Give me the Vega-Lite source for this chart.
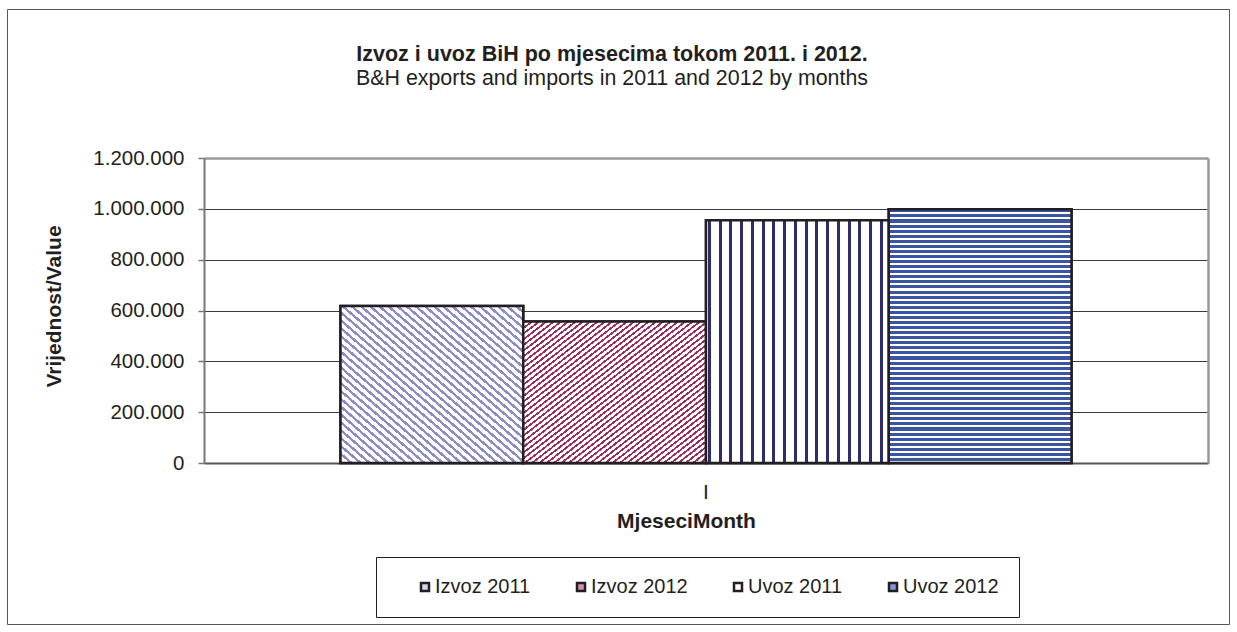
{
  "$schema": "https://vega.github.io/schema/vega-lite/v6.json",
  "width": 1222,
  "height": 615,
  "autosize": "none",
  "padding": {"left": 7, "top": 9, "right": 8, "bottom": 8},
  "background": "white",
  "title": {
    "text": "Izvoz i uvoz BiH po mjesecima tokom 2011. i 2012.",
    "subtitle": "B&H exports and imports in 2011 and 2012 by months",
    "anchor": "middle",
    "font": "Liberation Sans",
    "fontSize": 21.5,
    "fontWeight": "bold",
    "color": "#231f20",
    "subtitleFont": "Liberation Sans",
    "subtitleFontSize": 21.4,
    "subtitleColor": "#231f20",
    "subtitlePadding": 2,
    "offset": -80,
    "dx": -6
  },
  "data": {
    "values": [
      {"m": "I", "s": "Izvoz 2011", "v": 618000},
      {"m": "I", "s": "Izvoz 2012", "v": 557000},
      {"m": "I", "s": "Uvoz 2011", "v": 955000},
      {"m": "I", "s": "Uvoz 2012", "v": 998000}
    ]
  },
  "resolve": {"axis": {"y": "independent"}},
  "layer": [
    {
      "mark": {"type": "bar", "stroke": "#231f20", "strokeWidth": 2.5},
      "encoding": {
        "x": {
          "field": "m", "type": "nominal",
          "scale": {"range": [197, 1201], "paddingInner": 0, "paddingOuter": 0.1867},
          "axis": {
            "offset": -161,
            "title": "MjeseciMonth",
            "titleFont": "Liberation Sans",
            "titleFontWeight": "bold",
            "titleFontSize": 21,
            "titleColor": "#231f20",
            "titleX": 679,
            "titleY": 64,
            "titleAlign": "center",
            "titleBaseline": "alphabetic",
            "labelAngle": 0,
            "labelFont": "Liberation Sans",
            "labelFontSize": 21,
            "labelColor": "#231f20",
            "labelPadding": 18,
            "ticks": false,
            "grid": false,
            "domainColor": "#555555",
            "domainWidth": 2
          }
        },
        "xOffset": {
          "field": "s", "type": "nominal",
          "scale": {"domain": ["Izvoz 2011", "Izvoz 2012", "Uvoz 2011", "Uvoz 2012"], "paddingInner": 0, "paddingOuter": 0}
        },
        "y": {
          "field": "v", "type": "quantitative",
          "scale": {"domain": [0, 1200000], "range": [454, 149], "nice": false},
          "axis": {
            "orient": "left",
            "offset": -197,
            "values": [0, 200000, 400000, 600000, 800000, 1000000, 1200000],
            "labelExpr": "replace(replace(format(datum.value, ','), ',', '.'), ',', '.')",
            "labelFont": "Liberation Sans",
            "labelFontSize": 20.5,
            "labelColor": "#231f20",
            "labelPadding": 14,
            "tickSize": 6,
            "tickColor": "#777777",
            "tickWidth": 1.5,
            "domainColor": "#777777",
            "domainWidth": 2,
            "grid": true,
            "gridColor": {"condition": {"test": "datum.value === 1200000", "value": "#9a9a9a"}, "value": "#3a3a3a"},
            "gridWidth": {"condition": {"test": "datum.value === 1200000", "value": 2.5}, "value": 1},
            "title": "Vrijednost/Value",
            "titleFont": "Liberation Sans",
            "titleFontWeight": "bold",
            "titleFontSize": 21,
            "titleColor": "#231f20",
            "titleAngle": -90,
            "titleX": -150,
            "titleY": 297,
            "titleAlign": "center",
            "titleBaseline": "middle"
          }
        },
        "color": {
          "field": "s", "type": "nominal",
          "scale": {"domain": ["Izvoz 2011", "Izvoz 2012", "Uvoz 2011", "Uvoz 2012"], "range": ["#d4d4ee", "#d890ae", "#ffffff", "#8496cf"]},
          "legend": {
            "orient": "none",
            "legendX": 369,
            "legendY": 548,
            "direction": "horizontal",
            "columns": 4,
            "title": null,
            "labelFont": "Liberation Sans",
            "labelFontSize": 20,
            "labelColor": "#231f20",
            "symbolType": "square",
            "symbolSize": 64,
            "symbolStrokeColor": "#231f20",
            "symbolStrokeWidth": 2.5,
            "symbolOffset": 19,
            "labelOffset": 0,
            "columnPadding": 21,
            "padding": 20,
            "strokeColor": "#231f20"
          }
        }
      }
    },
    {
      "transform": [{"filter": "datum.s === 'Izvoz 2011'"}],
      "mark": {
        "type": "bar", "stroke": "#231f20", "strokeWidth": 2.5,
        "fill": {"gradient": "linear", "x1": 0, "y1": 1, "x2": 1, "y2": 0, "stops": [
          {"offset":0,"color":"#8c8cc6"},{"offset":0.01,"color":"#8c8cc6"},{"offset":0.01,"color":"#fff"},{"offset":0.025,"color":"#fff"},
          {"offset":0.025,"color":"#8c8cc6"},{"offset":0.035,"color":"#8c8cc6"},{"offset":0.035,"color":"#fff"},{"offset":0.05,"color":"#fff"},
          {"offset":0.05,"color":"#8c8cc6"},{"offset":0.06,"color":"#8c8cc6"},{"offset":0.06,"color":"#fff"},{"offset":0.075,"color":"#fff"},
          {"offset":0.075,"color":"#8c8cc6"},{"offset":0.085,"color":"#8c8cc6"},{"offset":0.085,"color":"#fff"},{"offset":0.1,"color":"#fff"},
          {"offset":0.1,"color":"#8c8cc6"},{"offset":0.11,"color":"#8c8cc6"},{"offset":0.11,"color":"#fff"},{"offset":0.125,"color":"#fff"},
          {"offset":0.125,"color":"#8c8cc6"},{"offset":0.135,"color":"#8c8cc6"},{"offset":0.135,"color":"#fff"},{"offset":0.15,"color":"#fff"},
          {"offset":0.15,"color":"#8c8cc6"},{"offset":0.16,"color":"#8c8cc6"},{"offset":0.16,"color":"#fff"},{"offset":0.175,"color":"#fff"},
          {"offset":0.175,"color":"#8c8cc6"},{"offset":0.185,"color":"#8c8cc6"},{"offset":0.185,"color":"#fff"},{"offset":0.2,"color":"#fff"},
          {"offset":0.2,"color":"#8c8cc6"},{"offset":0.21,"color":"#8c8cc6"},{"offset":0.21,"color":"#fff"},{"offset":0.225,"color":"#fff"},
          {"offset":0.225,"color":"#8c8cc6"},{"offset":0.235,"color":"#8c8cc6"},{"offset":0.235,"color":"#fff"},{"offset":0.25,"color":"#fff"},
          {"offset":0.25,"color":"#8c8cc6"},{"offset":0.26,"color":"#8c8cc6"},{"offset":0.26,"color":"#fff"},{"offset":0.275,"color":"#fff"},
          {"offset":0.275,"color":"#8c8cc6"},{"offset":0.285,"color":"#8c8cc6"},{"offset":0.285,"color":"#fff"},{"offset":0.3,"color":"#fff"},
          {"offset":0.3,"color":"#8c8cc6"},{"offset":0.31,"color":"#8c8cc6"},{"offset":0.31,"color":"#fff"},{"offset":0.325,"color":"#fff"},
          {"offset":0.325,"color":"#8c8cc6"},{"offset":0.335,"color":"#8c8cc6"},{"offset":0.335,"color":"#fff"},{"offset":0.35,"color":"#fff"},
          {"offset":0.35,"color":"#8c8cc6"},{"offset":0.36,"color":"#8c8cc6"},{"offset":0.36,"color":"#fff"},{"offset":0.375,"color":"#fff"},
          {"offset":0.375,"color":"#8c8cc6"},{"offset":0.385,"color":"#8c8cc6"},{"offset":0.385,"color":"#fff"},{"offset":0.4,"color":"#fff"},
          {"offset":0.4,"color":"#8c8cc6"},{"offset":0.41,"color":"#8c8cc6"},{"offset":0.41,"color":"#fff"},{"offset":0.425,"color":"#fff"},
          {"offset":0.425,"color":"#8c8cc6"},{"offset":0.435,"color":"#8c8cc6"},{"offset":0.435,"color":"#fff"},{"offset":0.45,"color":"#fff"},
          {"offset":0.45,"color":"#8c8cc6"},{"offset":0.46,"color":"#8c8cc6"},{"offset":0.46,"color":"#fff"},{"offset":0.475,"color":"#fff"},
          {"offset":0.475,"color":"#8c8cc6"},{"offset":0.485,"color":"#8c8cc6"},{"offset":0.485,"color":"#fff"},{"offset":0.5,"color":"#fff"},
          {"offset":0.5,"color":"#8c8cc6"},{"offset":0.51,"color":"#8c8cc6"},{"offset":0.51,"color":"#fff"},{"offset":0.525,"color":"#fff"},
          {"offset":0.525,"color":"#8c8cc6"},{"offset":0.535,"color":"#8c8cc6"},{"offset":0.535,"color":"#fff"},{"offset":0.55,"color":"#fff"},
          {"offset":0.55,"color":"#8c8cc6"},{"offset":0.56,"color":"#8c8cc6"},{"offset":0.56,"color":"#fff"},{"offset":0.575,"color":"#fff"},
          {"offset":0.575,"color":"#8c8cc6"},{"offset":0.585,"color":"#8c8cc6"},{"offset":0.585,"color":"#fff"},{"offset":0.6,"color":"#fff"},
          {"offset":0.6,"color":"#8c8cc6"},{"offset":0.61,"color":"#8c8cc6"},{"offset":0.61,"color":"#fff"},{"offset":0.625,"color":"#fff"},
          {"offset":0.625,"color":"#8c8cc6"},{"offset":0.635,"color":"#8c8cc6"},{"offset":0.635,"color":"#fff"},{"offset":0.65,"color":"#fff"},
          {"offset":0.65,"color":"#8c8cc6"},{"offset":0.66,"color":"#8c8cc6"},{"offset":0.66,"color":"#fff"},{"offset":0.675,"color":"#fff"},
          {"offset":0.675,"color":"#8c8cc6"},{"offset":0.685,"color":"#8c8cc6"},{"offset":0.685,"color":"#fff"},{"offset":0.7,"color":"#fff"},
          {"offset":0.7,"color":"#8c8cc6"},{"offset":0.71,"color":"#8c8cc6"},{"offset":0.71,"color":"#fff"},{"offset":0.725,"color":"#fff"},
          {"offset":0.725,"color":"#8c8cc6"},{"offset":0.735,"color":"#8c8cc6"},{"offset":0.735,"color":"#fff"},{"offset":0.75,"color":"#fff"},
          {"offset":0.75,"color":"#8c8cc6"},{"offset":0.76,"color":"#8c8cc6"},{"offset":0.76,"color":"#fff"},{"offset":0.775,"color":"#fff"},
          {"offset":0.775,"color":"#8c8cc6"},{"offset":0.785,"color":"#8c8cc6"},{"offset":0.785,"color":"#fff"},{"offset":0.8,"color":"#fff"},
          {"offset":0.8,"color":"#8c8cc6"},{"offset":0.81,"color":"#8c8cc6"},{"offset":0.81,"color":"#fff"},{"offset":0.825,"color":"#fff"},
          {"offset":0.825,"color":"#8c8cc6"},{"offset":0.835,"color":"#8c8cc6"},{"offset":0.835,"color":"#fff"},{"offset":0.85,"color":"#fff"},
          {"offset":0.85,"color":"#8c8cc6"},{"offset":0.86,"color":"#8c8cc6"},{"offset":0.86,"color":"#fff"},{"offset":0.875,"color":"#fff"},
          {"offset":0.875,"color":"#8c8cc6"},{"offset":0.885,"color":"#8c8cc6"},{"offset":0.885,"color":"#fff"},{"offset":0.9,"color":"#fff"},
          {"offset":0.9,"color":"#8c8cc6"},{"offset":0.91,"color":"#8c8cc6"},{"offset":0.91,"color":"#fff"},{"offset":0.925,"color":"#fff"},
          {"offset":0.925,"color":"#8c8cc6"},{"offset":0.935,"color":"#8c8cc6"},{"offset":0.935,"color":"#fff"},{"offset":0.95,"color":"#fff"},
          {"offset":0.95,"color":"#8c8cc6"},{"offset":0.96,"color":"#8c8cc6"},{"offset":0.96,"color":"#fff"},{"offset":0.975,"color":"#fff"},
          {"offset":0.975,"color":"#8c8cc6"},{"offset":0.985,"color":"#8c8cc6"},{"offset":0.985,"color":"#fff"},{"offset":1,"color":"#fff"}
        ]}
      },
      "encoding": {
        "x": {"field": "m", "type": "nominal"},
        "xOffset": {"field": "s", "type": "nominal"},
        "y": {"field": "v", "type": "quantitative", "axis": null}
      }
    },
    {
      "transform": [{"filter": "datum.s === 'Izvoz 2012'"}],
      "mark": {
        "type": "bar", "stroke": "#231f20", "strokeWidth": 2.5,
        "fill": {"gradient": "linear", "x1": 0, "y1": 0, "x2": 1, "y2": 1, "stops": [
          {"offset":0,"color":"#9c2b5e"},{"offset":0.008,"color":"#9c2b5e"},{"offset":0.008,"color":"#fff"},{"offset":0.02,"color":"#fff"},
          {"offset":0.02,"color":"#9c2b5e"},{"offset":0.028,"color":"#9c2b5e"},{"offset":0.028,"color":"#fff"},{"offset":0.04,"color":"#fff"},
          {"offset":0.04,"color":"#9c2b5e"},{"offset":0.048,"color":"#9c2b5e"},{"offset":0.048,"color":"#fff"},{"offset":0.06,"color":"#fff"},
          {"offset":0.06,"color":"#9c2b5e"},{"offset":0.068,"color":"#9c2b5e"},{"offset":0.068,"color":"#fff"},{"offset":0.08,"color":"#fff"},
          {"offset":0.08,"color":"#9c2b5e"},{"offset":0.088,"color":"#9c2b5e"},{"offset":0.088,"color":"#fff"},{"offset":0.1,"color":"#fff"},
          {"offset":0.1,"color":"#9c2b5e"},{"offset":0.108,"color":"#9c2b5e"},{"offset":0.108,"color":"#fff"},{"offset":0.12,"color":"#fff"},
          {"offset":0.12,"color":"#9c2b5e"},{"offset":0.128,"color":"#9c2b5e"},{"offset":0.128,"color":"#fff"},{"offset":0.14,"color":"#fff"},
          {"offset":0.14,"color":"#9c2b5e"},{"offset":0.148,"color":"#9c2b5e"},{"offset":0.148,"color":"#fff"},{"offset":0.16,"color":"#fff"},
          {"offset":0.16,"color":"#9c2b5e"},{"offset":0.168,"color":"#9c2b5e"},{"offset":0.168,"color":"#fff"},{"offset":0.18,"color":"#fff"},
          {"offset":0.18,"color":"#9c2b5e"},{"offset":0.188,"color":"#9c2b5e"},{"offset":0.188,"color":"#fff"},{"offset":0.2,"color":"#fff"},
          {"offset":0.2,"color":"#9c2b5e"},{"offset":0.208,"color":"#9c2b5e"},{"offset":0.208,"color":"#fff"},{"offset":0.22,"color":"#fff"},
          {"offset":0.22,"color":"#9c2b5e"},{"offset":0.228,"color":"#9c2b5e"},{"offset":0.228,"color":"#fff"},{"offset":0.24,"color":"#fff"},
          {"offset":0.24,"color":"#9c2b5e"},{"offset":0.248,"color":"#9c2b5e"},{"offset":0.248,"color":"#fff"},{"offset":0.26,"color":"#fff"},
          {"offset":0.26,"color":"#9c2b5e"},{"offset":0.268,"color":"#9c2b5e"},{"offset":0.268,"color":"#fff"},{"offset":0.28,"color":"#fff"},
          {"offset":0.28,"color":"#9c2b5e"},{"offset":0.288,"color":"#9c2b5e"},{"offset":0.288,"color":"#fff"},{"offset":0.3,"color":"#fff"},
          {"offset":0.3,"color":"#9c2b5e"},{"offset":0.308,"color":"#9c2b5e"},{"offset":0.308,"color":"#fff"},{"offset":0.32,"color":"#fff"},
          {"offset":0.32,"color":"#9c2b5e"},{"offset":0.328,"color":"#9c2b5e"},{"offset":0.328,"color":"#fff"},{"offset":0.34,"color":"#fff"},
          {"offset":0.34,"color":"#9c2b5e"},{"offset":0.348,"color":"#9c2b5e"},{"offset":0.348,"color":"#fff"},{"offset":0.36,"color":"#fff"},
          {"offset":0.36,"color":"#9c2b5e"},{"offset":0.368,"color":"#9c2b5e"},{"offset":0.368,"color":"#fff"},{"offset":0.38,"color":"#fff"},
          {"offset":0.38,"color":"#9c2b5e"},{"offset":0.388,"color":"#9c2b5e"},{"offset":0.388,"color":"#fff"},{"offset":0.4,"color":"#fff"},
          {"offset":0.4,"color":"#9c2b5e"},{"offset":0.408,"color":"#9c2b5e"},{"offset":0.408,"color":"#fff"},{"offset":0.42,"color":"#fff"},
          {"offset":0.42,"color":"#9c2b5e"},{"offset":0.428,"color":"#9c2b5e"},{"offset":0.428,"color":"#fff"},{"offset":0.44,"color":"#fff"},
          {"offset":0.44,"color":"#9c2b5e"},{"offset":0.448,"color":"#9c2b5e"},{"offset":0.448,"color":"#fff"},{"offset":0.46,"color":"#fff"},
          {"offset":0.46,"color":"#9c2b5e"},{"offset":0.468,"color":"#9c2b5e"},{"offset":0.468,"color":"#fff"},{"offset":0.48,"color":"#fff"},
          {"offset":0.48,"color":"#9c2b5e"},{"offset":0.488,"color":"#9c2b5e"},{"offset":0.488,"color":"#fff"},{"offset":0.5,"color":"#fff"},
          {"offset":0.5,"color":"#9c2b5e"},{"offset":0.508,"color":"#9c2b5e"},{"offset":0.508,"color":"#fff"},{"offset":0.52,"color":"#fff"},
          {"offset":0.52,"color":"#9c2b5e"},{"offset":0.528,"color":"#9c2b5e"},{"offset":0.528,"color":"#fff"},{"offset":0.54,"color":"#fff"},
          {"offset":0.54,"color":"#9c2b5e"},{"offset":0.548,"color":"#9c2b5e"},{"offset":0.548,"color":"#fff"},{"offset":0.56,"color":"#fff"},
          {"offset":0.56,"color":"#9c2b5e"},{"offset":0.568,"color":"#9c2b5e"},{"offset":0.568,"color":"#fff"},{"offset":0.58,"color":"#fff"},
          {"offset":0.58,"color":"#9c2b5e"},{"offset":0.588,"color":"#9c2b5e"},{"offset":0.588,"color":"#fff"},{"offset":0.6,"color":"#fff"},
          {"offset":0.6,"color":"#9c2b5e"},{"offset":0.608,"color":"#9c2b5e"},{"offset":0.608,"color":"#fff"},{"offset":0.62,"color":"#fff"},
          {"offset":0.62,"color":"#9c2b5e"},{"offset":0.628,"color":"#9c2b5e"},{"offset":0.628,"color":"#fff"},{"offset":0.64,"color":"#fff"},
          {"offset":0.64,"color":"#9c2b5e"},{"offset":0.648,"color":"#9c2b5e"},{"offset":0.648,"color":"#fff"},{"offset":0.66,"color":"#fff"},
          {"offset":0.66,"color":"#9c2b5e"},{"offset":0.668,"color":"#9c2b5e"},{"offset":0.668,"color":"#fff"},{"offset":0.68,"color":"#fff"},
          {"offset":0.68,"color":"#9c2b5e"},{"offset":0.688,"color":"#9c2b5e"},{"offset":0.688,"color":"#fff"},{"offset":0.7,"color":"#fff"},
          {"offset":0.7,"color":"#9c2b5e"},{"offset":0.708,"color":"#9c2b5e"},{"offset":0.708,"color":"#fff"},{"offset":0.72,"color":"#fff"},
          {"offset":0.72,"color":"#9c2b5e"},{"offset":0.728,"color":"#9c2b5e"},{"offset":0.728,"color":"#fff"},{"offset":0.74,"color":"#fff"},
          {"offset":0.74,"color":"#9c2b5e"},{"offset":0.748,"color":"#9c2b5e"},{"offset":0.748,"color":"#fff"},{"offset":0.76,"color":"#fff"},
          {"offset":0.76,"color":"#9c2b5e"},{"offset":0.768,"color":"#9c2b5e"},{"offset":0.768,"color":"#fff"},{"offset":0.78,"color":"#fff"},
          {"offset":0.78,"color":"#9c2b5e"},{"offset":0.788,"color":"#9c2b5e"},{"offset":0.788,"color":"#fff"},{"offset":0.8,"color":"#fff"},
          {"offset":0.8,"color":"#9c2b5e"},{"offset":0.808,"color":"#9c2b5e"},{"offset":0.808,"color":"#fff"},{"offset":0.82,"color":"#fff"},
          {"offset":0.82,"color":"#9c2b5e"},{"offset":0.828,"color":"#9c2b5e"},{"offset":0.828,"color":"#fff"},{"offset":0.84,"color":"#fff"},
          {"offset":0.84,"color":"#9c2b5e"},{"offset":0.848,"color":"#9c2b5e"},{"offset":0.848,"color":"#fff"},{"offset":0.86,"color":"#fff"},
          {"offset":0.86,"color":"#9c2b5e"},{"offset":0.868,"color":"#9c2b5e"},{"offset":0.868,"color":"#fff"},{"offset":0.88,"color":"#fff"},
          {"offset":0.88,"color":"#9c2b5e"},{"offset":0.888,"color":"#9c2b5e"},{"offset":0.888,"color":"#fff"},{"offset":0.9,"color":"#fff"},
          {"offset":0.9,"color":"#9c2b5e"},{"offset":0.908,"color":"#9c2b5e"},{"offset":0.908,"color":"#fff"},{"offset":0.92,"color":"#fff"},
          {"offset":0.92,"color":"#9c2b5e"},{"offset":0.928,"color":"#9c2b5e"},{"offset":0.928,"color":"#fff"},{"offset":0.94,"color":"#fff"},
          {"offset":0.94,"color":"#9c2b5e"},{"offset":0.948,"color":"#9c2b5e"},{"offset":0.948,"color":"#fff"},{"offset":0.96,"color":"#fff"},
          {"offset":0.96,"color":"#9c2b5e"},{"offset":0.968,"color":"#9c2b5e"},{"offset":0.968,"color":"#fff"},{"offset":0.98,"color":"#fff"},
          {"offset":0.98,"color":"#9c2b5e"},{"offset":0.988,"color":"#9c2b5e"},{"offset":0.988,"color":"#fff"},{"offset":1,"color":"#fff"}
        ]}
      },
      "encoding": {
        "x": {"field": "m", "type": "nominal"},
        "xOffset": {"field": "s", "type": "nominal"},
        "y": {"field": "v", "type": "quantitative", "axis": null}
      }
    },
    {
      "transform": [{"filter": "datum.s === 'Uvoz 2011'"}],
      "mark": {
        "type": "bar", "stroke": "#231f20", "strokeWidth": 2.5,
        "fill": {"gradient": "linear", "x1": 0, "y1": 0, "x2": 1, "y2": 0, "stops": [
          {"offset":0,"color":"#fff"},
          {"offset":0.01,"color":"#fff"},{"offset":0.01,"color":"#2d2d6e"},{"offset":0.0264,"color":"#2d2d6e"},{"offset":0.0264,"color":"#fff"},
          {"offset":0.0688,"color":"#fff"},{"offset":0.0688,"color":"#2d2d6e"},{"offset":0.0852,"color":"#2d2d6e"},{"offset":0.0852,"color":"#fff"},
          {"offset":0.1276,"color":"#fff"},{"offset":0.1276,"color":"#2d2d6e"},{"offset":0.144,"color":"#2d2d6e"},{"offset":0.144,"color":"#fff"},
          {"offset":0.1865,"color":"#fff"},{"offset":0.1865,"color":"#2d2d6e"},{"offset":0.2029,"color":"#2d2d6e"},{"offset":0.2029,"color":"#fff"},
          {"offset":0.2453,"color":"#fff"},{"offset":0.2453,"color":"#2d2d6e"},{"offset":0.2617,"color":"#2d2d6e"},{"offset":0.2617,"color":"#fff"},
          {"offset":0.3041,"color":"#fff"},{"offset":0.3041,"color":"#2d2d6e"},{"offset":0.3205,"color":"#2d2d6e"},{"offset":0.3205,"color":"#fff"},
          {"offset":0.3629,"color":"#fff"},{"offset":0.3629,"color":"#2d2d6e"},{"offset":0.3793,"color":"#2d2d6e"},{"offset":0.3793,"color":"#fff"},
          {"offset":0.4218,"color":"#fff"},{"offset":0.4218,"color":"#2d2d6e"},{"offset":0.4382,"color":"#2d2d6e"},{"offset":0.4382,"color":"#fff"},
          {"offset":0.4806,"color":"#fff"},{"offset":0.4806,"color":"#2d2d6e"},{"offset":0.497,"color":"#2d2d6e"},{"offset":0.497,"color":"#fff"},
          {"offset":0.5394,"color":"#fff"},{"offset":0.5394,"color":"#2d2d6e"},{"offset":0.5558,"color":"#2d2d6e"},{"offset":0.5558,"color":"#fff"},
          {"offset":0.5982,"color":"#fff"},{"offset":0.5982,"color":"#2d2d6e"},{"offset":0.6146,"color":"#2d2d6e"},{"offset":0.6146,"color":"#fff"},
          {"offset":0.6571,"color":"#fff"},{"offset":0.6571,"color":"#2d2d6e"},{"offset":0.6735,"color":"#2d2d6e"},{"offset":0.6735,"color":"#fff"},
          {"offset":0.7159,"color":"#fff"},{"offset":0.7159,"color":"#2d2d6e"},{"offset":0.7323,"color":"#2d2d6e"},{"offset":0.7323,"color":"#fff"},
          {"offset":0.7747,"color":"#fff"},{"offset":0.7747,"color":"#2d2d6e"},{"offset":0.7911,"color":"#2d2d6e"},{"offset":0.7911,"color":"#fff"},
          {"offset":0.8335,"color":"#fff"},{"offset":0.8335,"color":"#2d2d6e"},{"offset":0.8499,"color":"#2d2d6e"},{"offset":0.8499,"color":"#fff"},
          {"offset":0.8924,"color":"#fff"},{"offset":0.8924,"color":"#2d2d6e"},{"offset":0.9088,"color":"#2d2d6e"},{"offset":0.9088,"color":"#fff"},
          {"offset":0.9512,"color":"#fff"},{"offset":0.9512,"color":"#2d2d6e"},{"offset":0.9676,"color":"#2d2d6e"},{"offset":0.9676,"color":"#fff"},
          {"offset":1,"color":"#fff"}
        ]}
      },
      "encoding": {
        "x": {"field": "m", "type": "nominal"},
        "xOffset": {"field": "s", "type": "nominal"},
        "y": {"field": "v", "type": "quantitative", "axis": null}
      }
    },
    {
      "transform": [{"filter": "datum.s === 'Uvoz 2012'"}],
      "mark": {
        "type": "bar", "stroke": "#231f20", "strokeWidth": 2.5,
        "fill": {"gradient": "linear", "x1": 0, "y1": 0, "x2": 0, "y2": 1, "stops": [
          {"offset":0,"color":"#3b55a3"},{"offset":0.012,"color":"#3b55a3"},{"offset":0.012,"color":"#fff"},{"offset":0.02,"color":"#fff"},
          {"offset":0.02,"color":"#3b55a3"},{"offset":0.032,"color":"#3b55a3"},{"offset":0.032,"color":"#fff"},{"offset":0.04,"color":"#fff"},
          {"offset":0.04,"color":"#3b55a3"},{"offset":0.052,"color":"#3b55a3"},{"offset":0.052,"color":"#fff"},{"offset":0.06,"color":"#fff"},
          {"offset":0.06,"color":"#3b55a3"},{"offset":0.072,"color":"#3b55a3"},{"offset":0.072,"color":"#fff"},{"offset":0.08,"color":"#fff"},
          {"offset":0.08,"color":"#3b55a3"},{"offset":0.092,"color":"#3b55a3"},{"offset":0.092,"color":"#fff"},{"offset":0.1,"color":"#fff"},
          {"offset":0.1,"color":"#3b55a3"},{"offset":0.112,"color":"#3b55a3"},{"offset":0.112,"color":"#fff"},{"offset":0.12,"color":"#fff"},
          {"offset":0.12,"color":"#3b55a3"},{"offset":0.132,"color":"#3b55a3"},{"offset":0.132,"color":"#fff"},{"offset":0.14,"color":"#fff"},
          {"offset":0.14,"color":"#3b55a3"},{"offset":0.152,"color":"#3b55a3"},{"offset":0.152,"color":"#fff"},{"offset":0.16,"color":"#fff"},
          {"offset":0.16,"color":"#3b55a3"},{"offset":0.172,"color":"#3b55a3"},{"offset":0.172,"color":"#fff"},{"offset":0.18,"color":"#fff"},
          {"offset":0.18,"color":"#3b55a3"},{"offset":0.192,"color":"#3b55a3"},{"offset":0.192,"color":"#fff"},{"offset":0.2,"color":"#fff"},
          {"offset":0.2,"color":"#3b55a3"},{"offset":0.212,"color":"#3b55a3"},{"offset":0.212,"color":"#fff"},{"offset":0.22,"color":"#fff"},
          {"offset":0.22,"color":"#3b55a3"},{"offset":0.232,"color":"#3b55a3"},{"offset":0.232,"color":"#fff"},{"offset":0.24,"color":"#fff"},
          {"offset":0.24,"color":"#3b55a3"},{"offset":0.252,"color":"#3b55a3"},{"offset":0.252,"color":"#fff"},{"offset":0.26,"color":"#fff"},
          {"offset":0.26,"color":"#3b55a3"},{"offset":0.272,"color":"#3b55a3"},{"offset":0.272,"color":"#fff"},{"offset":0.28,"color":"#fff"},
          {"offset":0.28,"color":"#3b55a3"},{"offset":0.292,"color":"#3b55a3"},{"offset":0.292,"color":"#fff"},{"offset":0.3,"color":"#fff"},
          {"offset":0.3,"color":"#3b55a3"},{"offset":0.312,"color":"#3b55a3"},{"offset":0.312,"color":"#fff"},{"offset":0.32,"color":"#fff"},
          {"offset":0.32,"color":"#3b55a3"},{"offset":0.332,"color":"#3b55a3"},{"offset":0.332,"color":"#fff"},{"offset":0.34,"color":"#fff"},
          {"offset":0.34,"color":"#3b55a3"},{"offset":0.352,"color":"#3b55a3"},{"offset":0.352,"color":"#fff"},{"offset":0.36,"color":"#fff"},
          {"offset":0.36,"color":"#3b55a3"},{"offset":0.372,"color":"#3b55a3"},{"offset":0.372,"color":"#fff"},{"offset":0.38,"color":"#fff"},
          {"offset":0.38,"color":"#3b55a3"},{"offset":0.392,"color":"#3b55a3"},{"offset":0.392,"color":"#fff"},{"offset":0.4,"color":"#fff"},
          {"offset":0.4,"color":"#3b55a3"},{"offset":0.412,"color":"#3b55a3"},{"offset":0.412,"color":"#fff"},{"offset":0.42,"color":"#fff"},
          {"offset":0.42,"color":"#3b55a3"},{"offset":0.432,"color":"#3b55a3"},{"offset":0.432,"color":"#fff"},{"offset":0.44,"color":"#fff"},
          {"offset":0.44,"color":"#3b55a3"},{"offset":0.452,"color":"#3b55a3"},{"offset":0.452,"color":"#fff"},{"offset":0.46,"color":"#fff"},
          {"offset":0.46,"color":"#3b55a3"},{"offset":0.472,"color":"#3b55a3"},{"offset":0.472,"color":"#fff"},{"offset":0.48,"color":"#fff"},
          {"offset":0.48,"color":"#3b55a3"},{"offset":0.492,"color":"#3b55a3"},{"offset":0.492,"color":"#fff"},{"offset":0.5,"color":"#fff"},
          {"offset":0.5,"color":"#3b55a3"},{"offset":0.512,"color":"#3b55a3"},{"offset":0.512,"color":"#fff"},{"offset":0.52,"color":"#fff"},
          {"offset":0.52,"color":"#3b55a3"},{"offset":0.532,"color":"#3b55a3"},{"offset":0.532,"color":"#fff"},{"offset":0.54,"color":"#fff"},
          {"offset":0.54,"color":"#3b55a3"},{"offset":0.552,"color":"#3b55a3"},{"offset":0.552,"color":"#fff"},{"offset":0.56,"color":"#fff"},
          {"offset":0.56,"color":"#3b55a3"},{"offset":0.572,"color":"#3b55a3"},{"offset":0.572,"color":"#fff"},{"offset":0.58,"color":"#fff"},
          {"offset":0.58,"color":"#3b55a3"},{"offset":0.592,"color":"#3b55a3"},{"offset":0.592,"color":"#fff"},{"offset":0.6,"color":"#fff"},
          {"offset":0.6,"color":"#3b55a3"},{"offset":0.612,"color":"#3b55a3"},{"offset":0.612,"color":"#fff"},{"offset":0.62,"color":"#fff"},
          {"offset":0.62,"color":"#3b55a3"},{"offset":0.632,"color":"#3b55a3"},{"offset":0.632,"color":"#fff"},{"offset":0.64,"color":"#fff"},
          {"offset":0.64,"color":"#3b55a3"},{"offset":0.652,"color":"#3b55a3"},{"offset":0.652,"color":"#fff"},{"offset":0.66,"color":"#fff"},
          {"offset":0.66,"color":"#3b55a3"},{"offset":0.672,"color":"#3b55a3"},{"offset":0.672,"color":"#fff"},{"offset":0.68,"color":"#fff"},
          {"offset":0.68,"color":"#3b55a3"},{"offset":0.692,"color":"#3b55a3"},{"offset":0.692,"color":"#fff"},{"offset":0.7,"color":"#fff"},
          {"offset":0.7,"color":"#3b55a3"},{"offset":0.712,"color":"#3b55a3"},{"offset":0.712,"color":"#fff"},{"offset":0.72,"color":"#fff"},
          {"offset":0.72,"color":"#3b55a3"},{"offset":0.732,"color":"#3b55a3"},{"offset":0.732,"color":"#fff"},{"offset":0.74,"color":"#fff"},
          {"offset":0.74,"color":"#3b55a3"},{"offset":0.752,"color":"#3b55a3"},{"offset":0.752,"color":"#fff"},{"offset":0.76,"color":"#fff"},
          {"offset":0.76,"color":"#3b55a3"},{"offset":0.772,"color":"#3b55a3"},{"offset":0.772,"color":"#fff"},{"offset":0.78,"color":"#fff"},
          {"offset":0.78,"color":"#3b55a3"},{"offset":0.792,"color":"#3b55a3"},{"offset":0.792,"color":"#fff"},{"offset":0.8,"color":"#fff"},
          {"offset":0.8,"color":"#3b55a3"},{"offset":0.812,"color":"#3b55a3"},{"offset":0.812,"color":"#fff"},{"offset":0.82,"color":"#fff"},
          {"offset":0.82,"color":"#3b55a3"},{"offset":0.832,"color":"#3b55a3"},{"offset":0.832,"color":"#fff"},{"offset":0.84,"color":"#fff"},
          {"offset":0.84,"color":"#3b55a3"},{"offset":0.852,"color":"#3b55a3"},{"offset":0.852,"color":"#fff"},{"offset":0.86,"color":"#fff"},
          {"offset":0.86,"color":"#3b55a3"},{"offset":0.872,"color":"#3b55a3"},{"offset":0.872,"color":"#fff"},{"offset":0.88,"color":"#fff"},
          {"offset":0.88,"color":"#3b55a3"},{"offset":0.892,"color":"#3b55a3"},{"offset":0.892,"color":"#fff"},{"offset":0.9,"color":"#fff"},
          {"offset":0.9,"color":"#3b55a3"},{"offset":0.912,"color":"#3b55a3"},{"offset":0.912,"color":"#fff"},{"offset":0.92,"color":"#fff"},
          {"offset":0.92,"color":"#3b55a3"},{"offset":0.932,"color":"#3b55a3"},{"offset":0.932,"color":"#fff"},{"offset":0.94,"color":"#fff"},
          {"offset":0.94,"color":"#3b55a3"},{"offset":0.952,"color":"#3b55a3"},{"offset":0.952,"color":"#fff"},{"offset":0.96,"color":"#fff"},
          {"offset":0.96,"color":"#3b55a3"},{"offset":0.972,"color":"#3b55a3"},{"offset":0.972,"color":"#fff"},{"offset":0.98,"color":"#fff"},
          {"offset":0.98,"color":"#3b55a3"},{"offset":0.992,"color":"#3b55a3"},{"offset":0.992,"color":"#fff"},{"offset":1,"color":"#fff"}
        ]}
      },
      "encoding": {
        "x": {"field": "m", "type": "nominal"},
        "xOffset": {"field": "s", "type": "nominal"},
        "y": {
          "field": "v", "type": "quantitative",
          "axis": {"orient": "right", "offset": -21, "labels": false, "ticks": false, "grid": false, "title": null, "domainColor": "#9a9a9a", "domainWidth": 2.5}
        }
      }
    }
  ],
  "config": {
    "font": "Liberation Sans",
    "view": {"stroke": "#555555", "strokeWidth": 1}
  }
}
